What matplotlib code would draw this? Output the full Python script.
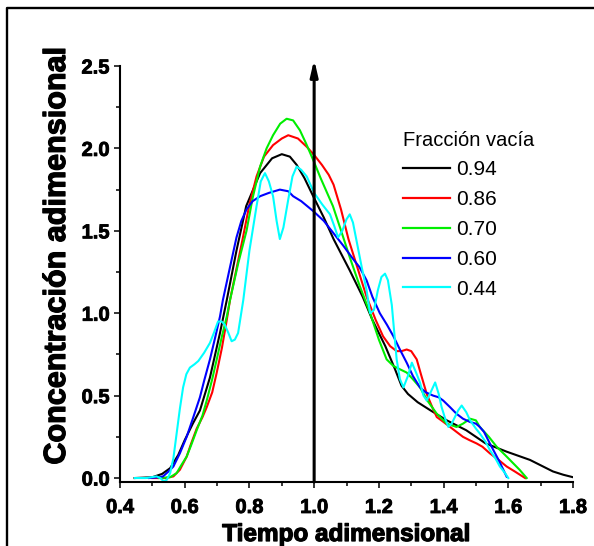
import matplotlib
matplotlib.use("Agg")
import matplotlib.pyplot as plt
import matplotlib.patheffects as pe
from matplotlib.lines import Line2D
from matplotlib.ticker import MultipleLocator

plt.rcParams['font.family'] = ['Liberation Sans', 'DejaVu Sans']

# Residence-time distribution curves for each void fraction
t_094 = [0.445, 0.50, 0.53, 0.555, 0.58, 0.60, 0.625, 0.647, 0.678, 0.709, 0.73, 0.76, 0.79,
         0.833, 0.87, 0.90, 0.925, 0.946, 0.97, 0.997, 1.03, 1.06, 1.11, 1.15, 1.18, 1.21,
         1.22, 1.25, 1.27, 1.29, 1.32, 1.36, 1.41, 1.47, 1.53, 1.595, 1.667, 1.738, 1.77, 1.80]
c_094 = [0.0, 0.005, 0.025, 0.06, 0.14, 0.23, 0.33, 0.41, 0.61, 0.88, 1.08, 1.38, 1.65,
         1.85, 1.94, 1.965, 1.95, 1.90, 1.82, 1.71, 1.58, 1.45, 1.26, 1.10, 0.96, 0.84,
         0.80, 0.66, 0.56, 0.51, 0.46, 0.41, 0.35, 0.29, 0.21, 0.16, 0.11, 0.04, 0.02, 0.005]

t_086 = [0.50, 0.54, 0.565, 0.585, 0.606, 0.62, 0.637, 0.655, 0.668, 0.685, 0.699, 0.715, 0.73,
         0.74, 0.76, 0.78, 0.80, 0.822, 0.845, 0.873, 0.90, 0.92, 0.95, 0.977, 1.0, 1.024,
         1.045, 1.06, 1.083, 1.106, 1.13, 1.162, 1.19, 1.213, 1.235, 1.255, 1.27, 1.286, 1.30,
         1.317, 1.33, 1.348, 1.365, 1.379, 1.40, 1.42, 1.44, 1.46, 1.48, 1.502, 1.52, 1.543,
         1.57, 1.595, 1.62, 1.652]
c_086 = [0.0, 0.0, 0.01, 0.05, 0.13, 0.21, 0.30, 0.37, 0.43, 0.52, 0.64, 0.79, 0.96,
         1.08, 1.27, 1.46, 1.66, 1.83, 1.95, 2.02, 2.06, 2.08, 2.06, 2.01, 1.96, 1.90,
         1.84, 1.78, 1.63, 1.45, 1.30, 1.10, 0.96, 0.86, 0.80, 0.77, 0.77, 0.78, 0.77,
         0.72, 0.63, 0.51, 0.43, 0.37, 0.34, 0.31, 0.28, 0.25, 0.23, 0.21, 0.19, 0.15,
         0.11, 0.07, 0.04, 0.0]

t_070 = [0.52, 0.555, 0.575, 0.59, 0.606, 0.62, 0.637, 0.655, 0.668, 0.685, 0.699, 0.715, 0.73,
         0.74, 0.765, 0.791, 0.81, 0.833, 0.853, 0.873, 0.895, 0.915, 0.935, 0.956, 0.975,
         0.997, 1.02, 1.058, 1.08, 1.11, 1.14, 1.173, 1.20, 1.224, 1.245, 1.265, 1.286, 1.305,
         1.327, 1.35, 1.379, 1.41, 1.44, 1.46, 1.482, 1.50, 1.512, 1.54, 1.564, 1.59, 1.615,
         1.635, 1.657]
c_070 = [0.0, 0.005, 0.03, 0.08, 0.13, 0.20, 0.29, 0.38, 0.47, 0.60, 0.72, 0.86, 0.98,
         1.08, 1.30, 1.50, 1.70, 1.89, 2.00, 2.08, 2.15, 2.18, 2.17, 2.11, 2.03,
         1.93, 1.82, 1.65, 1.52, 1.34, 1.17, 1.00, 0.84, 0.72, 0.68, 0.66, 0.64, 0.60,
         0.55, 0.47, 0.39, 0.33, 0.31, 0.33, 0.36, 0.35, 0.31, 0.25, 0.19, 0.14, 0.09,
         0.05, 0.0]

t_060 = [0.49, 0.52, 0.533, 0.55, 0.565, 0.585, 0.606, 0.625, 0.647, 0.66, 0.678, 0.695, 0.709,
         0.718, 0.74, 0.76, 0.775, 0.791, 0.81, 0.833, 0.86, 0.894, 0.92, 0.935, 0.96, 0.997,
         1.03, 1.058, 1.09, 1.12, 1.14, 1.162, 1.18, 1.203, 1.225, 1.245, 1.265, 1.286, 1.305,
         1.327, 1.345, 1.368, 1.385, 1.399, 1.42, 1.44, 1.46, 1.482, 1.50, 1.512, 1.525, 1.543,
         1.57, 1.595]
c_060 = [0.0, 0.005, 0.01, 0.04, 0.07, 0.15, 0.25, 0.36, 0.49, 0.59, 0.72, 0.86, 0.98,
         1.08, 1.28, 1.46, 1.56, 1.63, 1.68, 1.71, 1.73, 1.75, 1.74, 1.71, 1.68, 1.62,
         1.56, 1.49, 1.41, 1.33, 1.28, 1.20, 1.10, 1.00, 0.93, 0.86, 0.78, 0.70, 0.62,
         0.55, 0.52, 0.50, 0.49, 0.47, 0.43, 0.39, 0.36, 0.34, 0.33, 0.31, 0.28, 0.21,
         0.11, 0.008]

t_044 = [0.446, 0.48, 0.513, 0.525, 0.535, 0.545, 0.555, 0.565, 0.575, 0.585, 0.595, 0.605,
         0.616, 0.63, 0.642, 0.66, 0.678, 0.69, 0.703, 0.714, 0.724, 0.735, 0.745, 0.755,
         0.765, 0.781, 0.80, 0.822, 0.835, 0.848, 0.86, 0.873, 0.884, 0.894, 0.905, 0.92,
         0.933, 0.946, 0.96, 0.977, 1.0, 1.025, 1.049, 1.062, 1.074, 1.087, 1.10, 1.11,
         1.12, 1.131, 1.147, 1.162, 1.173, 1.185, 1.197, 1.208, 1.219, 1.228, 1.24, 1.255,
         1.265, 1.276, 1.29, 1.302, 1.315, 1.327, 1.338, 1.348, 1.36, 1.374, 1.385, 1.394,
         1.405, 1.415, 1.425, 1.435, 1.445, 1.456, 1.47, 1.482, 1.50, 1.512, 1.53, 1.543,
         1.56, 1.574, 1.59, 1.60]
c_044 = [0.0, 0.0, 0.01, 0.0, -0.02, -0.01, 0.03, 0.12, 0.27, 0.42, 0.55, 0.63,
         0.67, 0.69, 0.71, 0.76, 0.82, 0.88, 0.95, 0.95, 0.93, 0.88, 0.83, 0.84,
         0.88, 1.08, 1.38, 1.65, 1.80, 1.85, 1.80, 1.71, 1.56, 1.45, 1.52, 1.69,
         1.83, 1.89, 1.87, 1.83, 1.73, 1.66, 1.60, 1.53, 1.46, 1.50, 1.57, 1.60,
         1.55, 1.44, 1.28, 1.14, 1.00, 1.02, 1.14, 1.22, 1.24, 1.20, 1.05, 0.72,
         0.60, 0.55, 0.62, 0.70, 0.64, 0.58, 0.50, 0.47, 0.52, 0.58, 0.51, 0.43,
         0.36, 0.31, 0.33, 0.37, 0.41, 0.44, 0.40, 0.35, 0.30, 0.27, 0.22, 0.17,
         0.12, 0.07, 0.03, 0.0]

series_labels = ['0.94', '0.86', '0.70', '0.60', '0.44']
series_colors = ['#000000', '#ff0000', '#00ee00', '#0000ff', '#00ffff']
legend_title = 'Fracción vacía'
x_label = 'Tiempo adimensional'
y_label = 'Concentración adimensional'
x_ticks = [0.4, 0.6, 0.8, 1.0, 1.2, 1.4, 1.6, 1.8]
y_ticks = [0.0, 0.5, 1.0, 1.5, 2.0, 2.5]
mean_time = 1.0

W, H = 594, 546
fig = plt.figure(figsize=(W / 100, H / 100), dpi=100)
ax = fig.add_axes([120 / W, 1 - 482 / H, 453 / W, 416 / H])

curves = [(t_094, c_094), (t_086, c_086), (t_070, c_070), (t_060, c_060), (t_044, c_044)]
for (t, c), lab, col in zip(curves, series_labels, series_colors):
    ax.plot(t, c, color=col, lw=1.5, label=lab, solid_joinstyle='round')

# vertical arrow marking the mean residence time
ax.annotate('', xy=(mean_time, 2.54), xytext=(mean_time, -0.024),
            arrowprops=dict(arrowstyle='-|>,head_length=0.95,head_width=0.22',
                            lw=2.2, color='black', shrinkA=0, shrinkB=0,
                            mutation_scale=10),
            annotation_clip=False, zorder=5)

ax.set_xlim(0.4, 1.8)
ax.set_ylim(-0.024, 2.5)
ax.set_xticks(x_ticks)
ax.set_yticks(y_ticks)
ax.set_xticklabels([f'{v:.1f}' for v in x_ticks])
ax.set_yticklabels([f'{v:.1f}' for v in y_ticks])
ax.xaxis.set_minor_locator(MultipleLocator(0.1))
ax.yaxis.set_minor_locator(MultipleLocator(0.25))

for s in ('top', 'right'):
    ax.spines[s].set_visible(False)
for s in ('left', 'bottom'):
    ax.spines[s].set_linewidth(1.5)

ax.tick_params(which='major', direction='out', length=4.5, width=1.1,
               labelsize=14.5, pad=3)
ax.tick_params(which='minor', direction='out', length=3.0, width=1.1)
ax.tick_params(axis='x', which='major', pad=7)
tick_heavy = [pe.withStroke(linewidth=0.6, foreground='black')]
for lbl in ax.get_xticklabels() + ax.get_yticklabels():
    lbl.set_fontweight('bold')
    lbl.set_path_effects(tick_heavy)

heavy = [pe.withStroke(linewidth=0.9, foreground='black')]
fig.text(346.5 / W, 1 - 541 / H, x_label, ha='center', va='baseline',
         fontsize=17.5, fontweight='bold', path_effects=heavy)
fig.text(57 / W, 1 - 256 / H, y_label, ha='center', va='center', rotation=90,
         fontsize=22, fontweight='bold', path_effects=heavy)

leg = ax.legend(title=legend_title, loc='upper left',
                bbox_to_anchor=(403 / W, 1 - 130.5 / H), bbox_transform=fig.transFigure,
                frameon=False, fontsize=15, title_fontsize=14.5,
                handlelength=2.25, handletextpad=0.3, labelspacing=0.52,
                borderpad=0, borderaxespad=0, alignment='left')
for h in leg.legend_handles:
    h.set_linewidth(1.6)

# frame around the figure (top and left edges fall inside the canvas)
fig.add_artist(Line2D([7 / W, 7 / W, 1.05], [-0.05, 1 - 8 / H, 1 - 8 / H],
                      transform=fig.transFigure, color='black', lw=1.7))

fig.savefig('out.png', dpi=100)
